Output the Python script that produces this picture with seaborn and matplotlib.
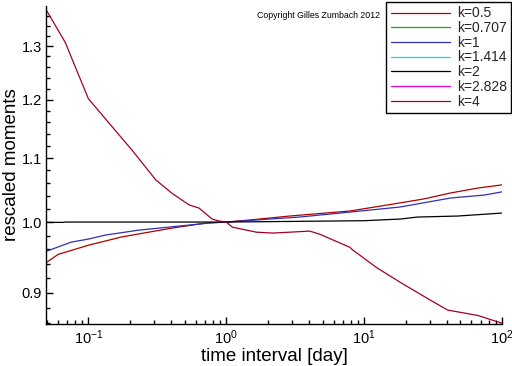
import numpy as np
import pandas as pd
import matplotlib
matplotlib.use("Agg")
import matplotlib.pyplot as plt
import seaborn as sns
from matplotlib.lines import Line2D
from matplotlib.ticker import FixedLocator, FixedFormatter, LogLocator, NullFormatter

# values
t_k05 = [0.05, 0.0605, 0.1, 0.174, 0.403, 0.714, 1.0, 1.47, 2.88, 7.9, 18.3, 27.0, 42.4, 66.8, 100]
m_k05 = [0.942, 0.953, 0.966, 0.978, 0.991, 0.9985, 1.0, 1.003, 1.009, 1.0166, 1.029, 1.035, 1.0443, 1.052, 1.057]

t_k1 = [0.05, 0.0751, 0.1, 0.133, 0.232, 0.454, 0.79, 1.0, 3.41, 7.9, 18.3, 42.4, 73.9, 100]
m_k1 = [0.9576, 0.9705, 0.9749, 0.9808, 0.988, 0.994, 0.999, 1.0, 1.0075, 1.015, 1.0227, 1.0365, 1.041, 1.046]

t_k2 = [0.05, 0.065, 0.068, 1.0, 10.0, 18.3, 24.4, 47.7, 100]
m_k2 = [0.9995, 0.9995, 1.0, 1.0, 1.002, 1.0045, 1.0075, 1.009, 1.0135]

t_k4 = [0.05, 0.068, 0.1, 0.14, 0.206, 0.308, 0.403, 0.537, 0.635, 0.79, 0.89, 1.0,
        1.106, 1.656, 2.17, 2.88, 4.03, 4.77, 7.9, 8.3, 12.4, 18.3, 30.3, 40.4, 66.8, 100]
m_k4 = [1.37, 1.307, 1.202, 1.16, 1.114, 1.065, 1.044, 1.026, 1.021, 1.0045, 1.0015, 1.0,
        0.9925, 0.985, 0.9837, 0.985, 0.9866, 0.982, 0.963, 0.959, 0.934, 0.914, 0.890, 0.877, 0.870, 0.860]

legend_labels = ["k=0.5", "k=0.707", "k=1", "k=1.414", "k=2", "k=2.828", "k=4"]
legend_colors = ["#b00000", "#00bb00", "#3030b0", "#00e0e0", "#000000", "#e000e0", "#a00028"]

y_major = [0.9, 1.0, 1.1, 1.2, 1.3]
y_major_labels = ["0.9", "1.0", "1.1", "1.2", "1.3"]
y_minor = [0.86, 0.88, 0.92, 0.94, 0.96, 0.98, 1.02, 1.04, 1.06, 1.08,
           1.12, 1.14, 1.16, 1.18, 1.22, 1.24, 1.26, 1.28, 1.32, 1.34, 1.36]

sns.set_theme(style="ticks")
plt.rcParams["font.family"] = ["Liberation Sans", "DejaVu Sans"]

curves = [("k=0.5", t_k05, m_k05), ("k=1", t_k1, m_k1), ("k=2", t_k2, m_k2), ("k=4", t_k4, m_k4)]
df = pd.concat([pd.DataFrame({"t": t, "m": m, "k": k}) for k, t, m in curves], ignore_index=True)
palette = dict(zip(legend_labels, legend_colors))

fig = plt.figure(figsize=(5.12, 3.66), dpi=100)
ax = fig.add_axes([46 / 512, 1 - 324 / 366, 456 / 512, 318 / 366])

sns.lineplot(data=df, x="t", y="m", hue="k", palette=palette, estimator=None,
             sort=False, linewidth=0.9, legend=False, ax=ax)

ax.set_xscale("log")
ax.set_yscale("log")
ax.set_xlim(0.0493, 100)
ax.set_ylim(0.859, 1.38)

ax.yaxis.set_major_locator(FixedLocator(y_major))
ax.yaxis.set_major_formatter(FixedFormatter(y_major_labels))
ax.yaxis.set_minor_locator(FixedLocator(y_minor))
ax.yaxis.set_minor_formatter(NullFormatter())
ax.xaxis.set_major_locator(LogLocator(base=10, numticks=10))
ax.xaxis.set_minor_locator(LogLocator(base=10, subs=np.arange(2, 10), numticks=10))
ax.xaxis.set_minor_formatter(NullFormatter())

ax.tick_params(which="major", direction="in", length=5, width=1, color="black",
               labelsize=10.5, labelcolor="black", pad=3)
ax.tick_params(which="minor", direction="in", length=3, width=1, color="black")

for side in ["top", "right"]:
    ax.spines[side].set_visible(False)
for side in ["left", "bottom"]:
    ax.spines[side].set_color("black")
    ax.spines[side].set_linewidth(1)

ax.set_xlabel("time interval [day]", fontsize=13.5, color="black", labelpad=1)
ax.set_ylabel("rescaled moments", fontsize=13.5, color="black", labelpad=1)

handles = [Line2D([], [], color=c, lw=0.9) for c in legend_colors]
leg = fig.legend(handles, legend_labels, loc="upper right", bbox_to_anchor=(0.999, 0.994),
                 frameon=True, fancybox=False, framealpha=1, edgecolor="black",
                 fontsize=10, handlelength=4.3, handletextpad=0.5, labelspacing=0.05,
                 borderpad=0.3, borderaxespad=0)
leg.get_frame().set_linewidth(1)

fig.text(257 / 512, 1 - 16 / 366, "Copyright Gilles Zumbach 2012", fontsize=6.3,
         color="black", va="center", ha="left")

fig.savefig("out.png", dpi=100, facecolor="white")
